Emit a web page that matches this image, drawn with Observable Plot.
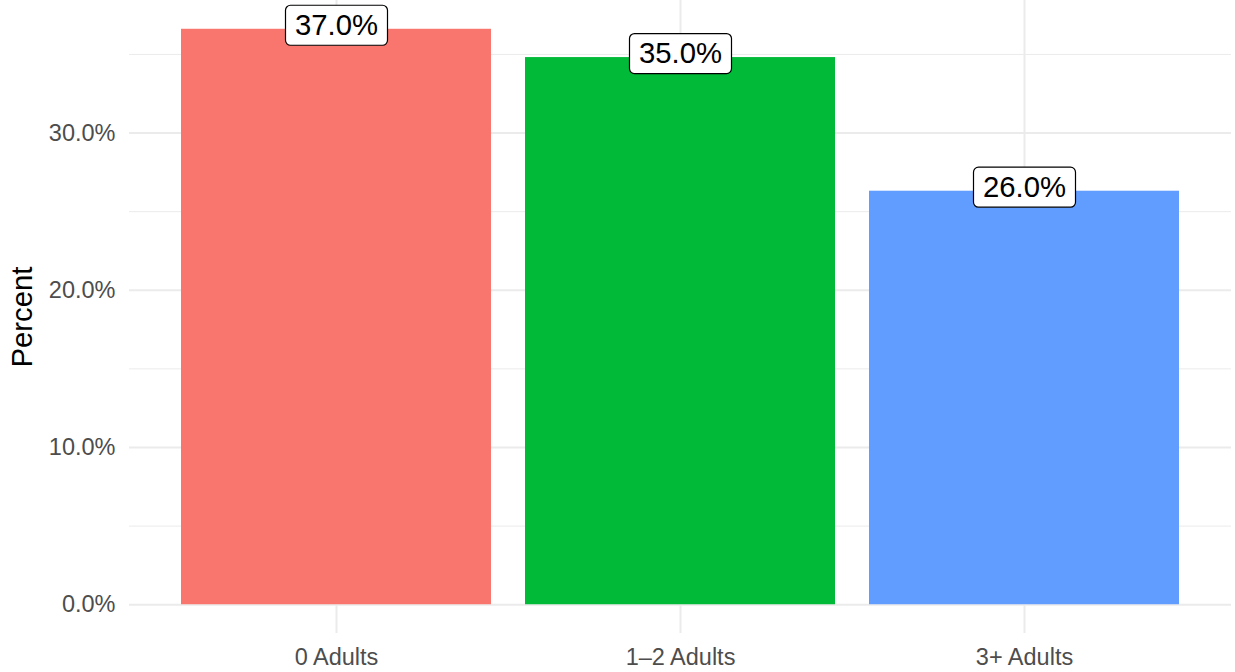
<!DOCTYPE html>
<html><head><meta charset="utf-8">
<script src="https://cdn.jsdelivr.net/npm/d3@7"></script>
<script src="https://cdn.jsdelivr.net/npm/@observablehq/plot@0.6"></script>
<style>body{margin:0;background:#fff}</style>
</head><body><div id="chart"></div>
<script>
const categories = ["0 Adults", "1–2 Adults", "3+ Adults"];
const percents = [0.366, 0.348, 0.263];
const labels = ["37.0%", "35.0%", "26.0%"];
const colors = ["#F8766D", "#00BA38", "#619CFF"];
const majorTicks = [0, 0.1, 0.2, 0.3];
const minorTicks = [0.05, 0.15, 0.25, 0.35];
const yDomain = [-0.0183, 0.3843];

const data = categories.map((c, i) => ({category: c, value: percents[i], label: labels[i]}));

const labelBox = {
  draw(ctx) {
    const w = 102, h = 40, r = 5, x0 = -w / 2, y0 = -h / 2;
    ctx.moveTo(x0 + r, y0);
    ctx.lineTo(x0 + w - r, y0);
    ctx.arcTo(x0 + w, y0, x0 + w, y0 + r, r);
    ctx.lineTo(x0 + w, y0 + h - r);
    ctx.arcTo(x0 + w, y0 + h, x0 + w - r, y0 + h, r);
    ctx.lineTo(x0 + r, y0 + h);
    ctx.arcTo(x0, y0 + h, x0, y0 + h - r, r);
    ctx.lineTo(x0, y0 + r);
    ctx.arcTo(x0, y0, x0 + r, y0, r);
    ctx.closePath();
  }
};

const chart = Plot.plot({
  width: 1235, height: 672,
  marginLeft: 129, marginRight: 4, marginTop: 0, marginBottom: 39,
  style: {fontFamily: "'Liberation Sans', Arial, sans-serif", background: "#fff", overflow: "visible"},
  x: {type: "band", domain: categories, paddingInner: 0.1, paddingOuter: 0.15, align: 0.5, label: null},
  y: {domain: yDomain, label: null},
  color: {domain: categories, range: colors},
  marks: [
    Plot.ruleY(minorTicks, {stroke: "#ebebeb", strokeWidth: 1}),
    Plot.ruleY(majorTicks, {stroke: "#ebebeb", strokeWidth: 2}),
    Plot.ruleX(categories, {x: d => d, stroke: "#ebebeb", strokeWidth: 2}),
    Plot.barY(data, {x: "category", y: "value", fill: "category"}),
    Plot.axisY(majorTicks, {tickFormat: d3.format(".1%"), tickSize: 0, tickPadding: 14, fontSize: 23.5, color: "#4d4d4d", label: null}),
    Plot.axisX({tickSize: 0, tickPadding: 15, fontSize: 23.5, color: "#4d4d4d", label: null}),
    Plot.dot(data, {x: "category", y: "value", symbol: labelBox, fill: "white", stroke: "black", strokeWidth: 1.2, dy: -4}),
    Plot.text(data, {x: "category", y: "value", text: "label", fontSize: 29.3, fill: "black", dy: -4}),
    Plot.text(["Percent"], {frameAnchor: "left", textAnchor: "middle", dx: -107, rotate: -90, fontSize: 29.3, fill: "black"})
  ]
});
document.getElementById("chart").appendChild(chart);
</script>
</body></html>
